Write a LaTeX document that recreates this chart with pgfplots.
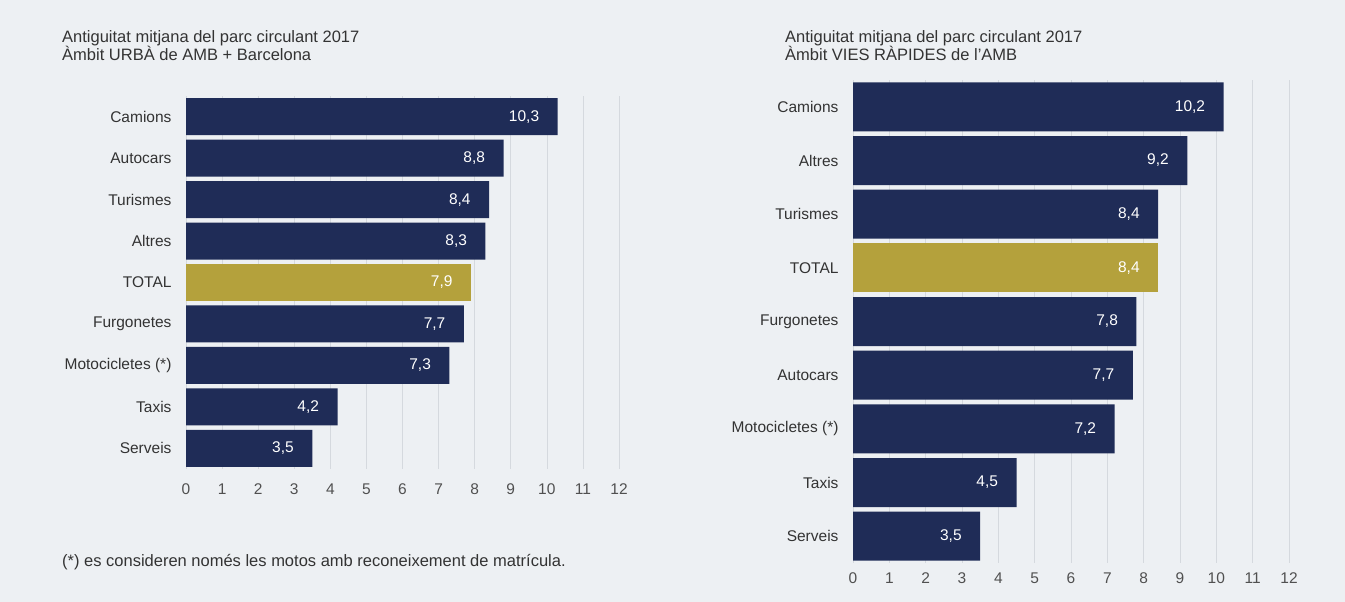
\documentclass[border=0pt]{standalone}
\usepackage{fontspec}
\setmainfont{Liberation Sans}
\usepackage{pgfplots}
\pgfplotsset{compat=1.18}
\definecolor{bg}{HTML}{EDF0F3}
\definecolor{navy}{HTML}{1F2C57}
\definecolor{gold}{HTML}{B4A13C}
\definecolor{txt}{HTML}{333333}
\definecolor{tickc}{HTML}{505050}
\definecolor{gridc}{HTML}{D5D9DE}
\pgfplotsset{
  panel/.style={
    xbar, scale only axis,
    xmin=0, xmax=12, ymin=-0.5, ymax=8.5, y dir=reverse,
    axis line style={draw=none},
    xtick={0,...,12}, ytick={0,...,8},
    major tick length=0pt,
    xmajorgrids, grid style={gridc, line width=0.6pt},
    tick label style={font=\fontsize{15.5}{17}\selectfont},
    xticklabel style={text=tickc},
    yticklabel style={text=txt, xshift=-11pt},
    /pgf/number format/assume math mode=true,
    nodes near coords={\pgfmathprintnumber[fixed,fixed zerofill,precision=1,use comma]{\pgfplotspointmeta}},
    nodes near coords style={anchor=east, xshift=-15pt, text=white, font=\fontsize{15.5}{17}\selectfont},
    clip=false,
  }
}
\begin{document}
\begin{tikzpicture}
\fill[bg] (0pt,0pt) rectangle (1345pt,-602pt);
\node[anchor=north west, align=left, font=\fontsize{16.5}{18.5}\selectfont, text=txt, inner sep=0pt] at (62pt,-30pt) {Antiguitat mitjana del parc circulant 2017\\Àmbit URBÀ de AMB + Barcelona};
\node[anchor=north west, align=left, font=\fontsize{16.5}{18.5}\selectfont, text=txt, inner sep=0pt] at (785pt,-30pt) {Antiguitat mitjana del parc circulant 2017\\Àmbit VIES RÀPIDES de l'AMB};
\node[anchor=west, font=\fontsize{16.5}{18}\selectfont, text=txt, inner sep=0pt] at (62pt,-562pt) {(*) es consideren només les motos amb reconeixement de matrícula.};

\begin{axis}[panel, at={(186pt,-469pt)}, anchor=south west, width=433pt, height=373pt,
  bar width=37pt,
  yticklabels={Camions,Autocars,Turismes,Altres,TOTAL,Furgonetes,Motocicletes (*),Taxis,Serveis},
  xticklabel style={yshift=-11pt}]
\addplot[fill=navy, draw=none, bar shift=0pt] coordinates {(10.3,0) (8.8,1) (8.4,2) (8.3,3) (7.7,5) (7.3,6) (4.2,7) (3.5,8)};
\addplot[fill=gold, draw=none, bar shift=0pt] coordinates {(7.9,4)};
\end{axis}

\begin{axis}[panel, at={(853pt,-563pt)}, anchor=south west, width=436pt, height=483pt,
  bar width=49pt,
  yticklabels={Camions,Altres,Turismes,TOTAL,Furgonetes,Autocars,Motocicletes (*),Taxis,Serveis},
  xticklabel style={yshift=-6pt}]
\addplot[fill=navy, draw=none, bar shift=0pt] coordinates {(10.2,0) (9.2,1) (8.4,2) (7.8,4) (7.7,5) (7.2,6) (4.5,7) (3.5,8)};
\addplot[fill=gold, draw=none, bar shift=0pt] coordinates {(8.4,3)};
\end{axis}
\end{tikzpicture}
\end{document}
